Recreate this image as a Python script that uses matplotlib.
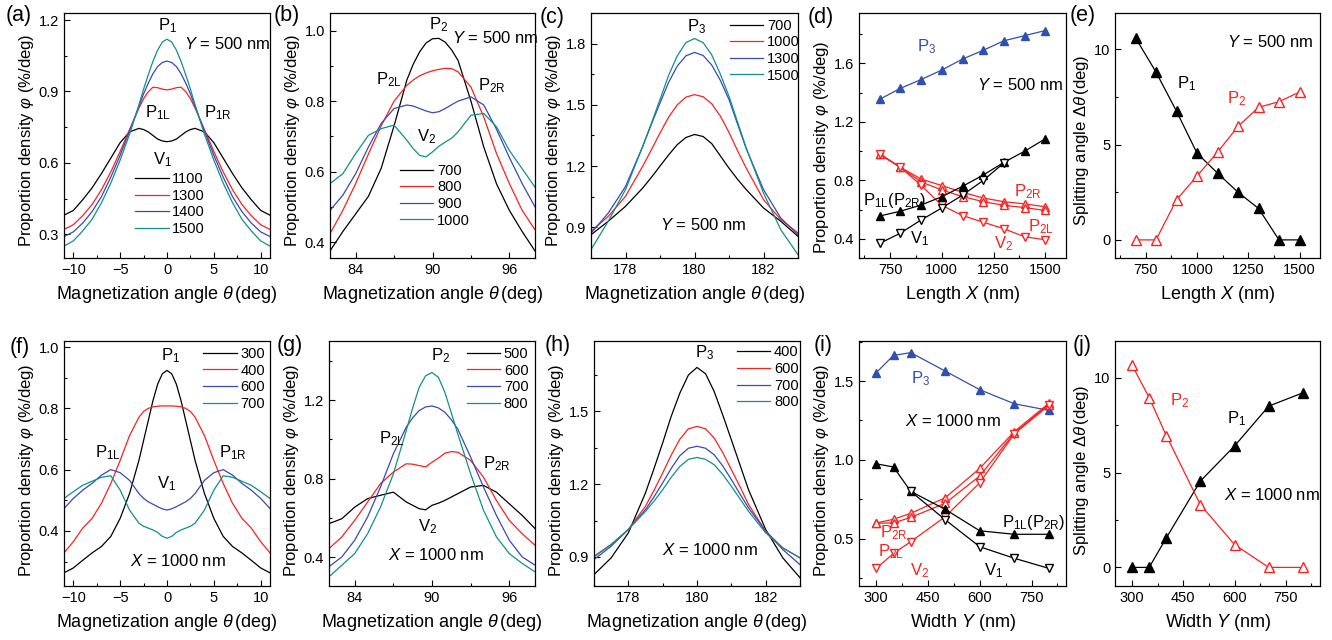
import numpy as np
import matplotlib.pyplot as plt
from matplotlib.ticker import MultipleLocator, FixedLocator

plt.rcParams['font.family'] = ['Liberation Sans', 'DejaVu Sans']
plt.rcParams['mathtext.fontset'] = 'custom'
plt.rcParams['mathtext.rm'] = 'Liberation Sans'
plt.rcParams['mathtext.it'] = 'Liberation Sans:italic'
plt.rcParams['axes.linewidth'] = 0.9

BLK = '#000000'
RED = '#ff1f1f'
BLU = '#3a48b8'
TEAL = '#10908c'
P3C = '#3050b0'

# ---- (a) peak P1 vs length X, Y = 500 nm
theta_a = [-11, -10, -9, -8, -7, -6, -5, -4, -3, -2.5, -2, -1.5, -1, -0.5, 0,
           0.5, 1, 1.5, 2, 2.5, 3, 4, 5, 6, 7, 8, 9, 10, 11]
a_1100 = [0.38, 0.40, 0.445, 0.495, 0.555, 0.62, 0.685, 0.73, 0.745, 0.74, 0.73, 0.715, 0.70, 0.692, 0.689,
          0.692, 0.70, 0.715, 0.73, 0.74, 0.745, 0.73, 0.685, 0.62, 0.555, 0.495, 0.445, 0.40, 0.38]
a_1300 = [0.32, 0.34, 0.378, 0.425, 0.487, 0.562, 0.648, 0.74, 0.83, 0.87, 0.899, 0.918, 0.916, 0.91, 0.907,
          0.91, 0.916, 0.918, 0.899, 0.87, 0.83, 0.74, 0.648, 0.562, 0.487, 0.425, 0.378, 0.34, 0.32]
a_1400 = [0.29, 0.31, 0.347, 0.395, 0.458, 0.54, 0.632, 0.733, 0.837, 0.89, 0.935, 0.975, 1.005, 1.022, 1.028,
          1.022, 1.005, 0.975, 0.935, 0.89, 0.837, 0.733, 0.632, 0.54, 0.458, 0.395, 0.347, 0.31, 0.29]
a_1500 = [0.25, 0.272, 0.314, 0.363, 0.432, 0.515, 0.612, 0.72, 0.844, 0.91, 0.97, 1.027, 1.074, 1.108, 1.12,
          1.108, 1.074, 1.027, 0.97, 0.91, 0.844, 0.72, 0.612, 0.515, 0.432, 0.363, 0.314, 0.272, 0.25]

# ---- (b) peak P2 vs length X
theta_b = [82, 83, 84, 85, 86, 87, 88, 88.5, 89, 89.5, 90, 90.5, 91, 91.5, 92, 93, 94, 95, 96, 97, 98]
b_700 = [0.375, 0.43, 0.48, 0.53, 0.61, 0.73, 0.86, 0.905, 0.94, 0.965, 0.977, 0.978, 0.967, 0.945,
         0.915, 0.80, 0.67, 0.565, 0.49, 0.43, 0.375]
b_800 = [0.424, 0.49, 0.566, 0.65, 0.73, 0.80, 0.845, 0.86, 0.872, 0.88, 0.886, 0.89, 0.893, 0.892,
         0.883, 0.84, 0.755, 0.651, 0.566, 0.49, 0.435]
b_900 = [0.49, 0.533, 0.594, 0.67, 0.737, 0.779, 0.789, 0.786, 0.779, 0.772, 0.767, 0.77, 0.779, 0.79,
         0.80, 0.812, 0.789, 0.72, 0.64, 0.566, 0.50]
b_1000 = [0.566, 0.594, 0.651, 0.703, 0.722, 0.732, 0.689, 0.665, 0.646, 0.642, 0.656, 0.672, 0.684, 0.695,
          0.713, 0.76, 0.765, 0.727, 0.66, 0.608, 0.556]

# ---- (c) peak P3 vs length X
theta_c = [177, 177.5, 178, 178.5, 178.75, 179, 179.25, 179.5, 179.75, 180,
           180.25, 180.5, 180.75, 181, 181.25, 181.5, 182, 182.5, 183]
c_700 = [0.864, 0.93, 1.003, 1.093, 1.145, 1.20, 1.255, 1.305, 1.34, 1.355,
         1.345, 1.31, 1.25, 1.19, 1.135, 1.085, 0.995, 0.93, 0.856]
c_1000 = [0.88, 0.954, 1.052, 1.20, 1.28, 1.362, 1.44, 1.50, 1.538, 1.55,
          1.54, 1.505, 1.445, 1.365, 1.275, 1.19, 1.036, 0.938, 0.873]
c_1300 = [0.872, 0.97, 1.10, 1.297, 1.405, 1.509, 1.61, 1.69, 1.74, 1.757,
          1.742, 1.695, 1.62, 1.526, 1.405, 1.285, 1.085, 0.946, 0.864]
c_1500 = [0.791, 0.93, 1.085, 1.297, 1.41, 1.526, 1.645, 1.74, 1.805, 1.825,
          1.805, 1.745, 1.65, 1.542, 1.415, 1.289, 1.068, 0.889, 0.766]

# ---- (d), (e) summary vs length X
len_x = [700, 800, 900, 1000, 1100, 1200, 1300, 1400, 1500]
d_p3 = [1.355, 1.43, 1.49, 1.555, 1.63, 1.69, 1.755, 1.79, 1.825]
d_p1 = [0.557, 0.59, 0.632, 0.689, 0.76, 0.837, 0.924, 1.0, 1.085]
d_v1 = [0.37, 0.44, 0.53, 0.612, 0.70, 0.80, 0.92]
d_p2r = [0.98, 0.89, 0.81, 0.765, 0.72, 0.68, 0.655, 0.64, 0.62]
d_p2l = [0.98, 0.89, 0.79, 0.735, 0.69, 0.655, 0.63, 0.615, 0.595]
d_v2 = [0.98, 0.89, 0.767, 0.63, 0.56, 0.515, 0.47, 0.415, 0.395]
e_p1 = [10.6, 8.8, 6.75, 4.55, 3.5, 2.5, 1.65, 0, 0]
e_p2 = [0, 0, 2.1, 3.35, 4.6, 5.95, 6.95, 7.25, 7.75]

# ---- (f) peak P1 vs width Y, X = 1000 nm
theta_f = theta_a
f_300 = [0.263, 0.279, 0.304, 0.328, 0.349, 0.382, 0.441, 0.522, 0.63, 0.695, 0.76, 0.825, 0.879, 0.913, 0.924,
         0.913, 0.879, 0.825, 0.76, 0.695, 0.63, 0.522, 0.441, 0.382, 0.349, 0.328, 0.304, 0.279, 0.263]
f_400 = [0.328, 0.365, 0.409, 0.441, 0.49, 0.555, 0.63, 0.711, 0.771, 0.79, 0.80, 0.805, 0.807, 0.808, 0.808,
         0.808, 0.807, 0.805, 0.80, 0.79, 0.771, 0.711, 0.63, 0.555, 0.49, 0.441, 0.409, 0.365, 0.328]
f_600 = [0.473, 0.506, 0.533, 0.555, 0.582, 0.60, 0.59, 0.565, 0.522, 0.506, 0.495, 0.487, 0.479, 0.472, 0.468,
         0.472, 0.479, 0.487, 0.495, 0.506, 0.522, 0.565, 0.59, 0.60, 0.582, 0.555, 0.533, 0.506, 0.473]
f_700 = [0.506, 0.528, 0.549, 0.562, 0.575, 0.58, 0.533, 0.468, 0.425, 0.415, 0.409, 0.403, 0.395, 0.382, 0.376,
         0.382, 0.395, 0.403, 0.409, 0.415, 0.425, 0.468, 0.533, 0.58, 0.575, 0.562, 0.549, 0.528, 0.506]

# ---- (g) peak P2 vs width Y
theta_g = theta_b
g_500 = [0.572, 0.597, 0.656, 0.699, 0.716, 0.732, 0.682, 0.665, 0.648, 0.642, 0.665, 0.676, 0.69, 0.707,
         0.724, 0.758, 0.766, 0.732, 0.673, 0.614, 0.547]
g_600 = [0.445, 0.505, 0.589, 0.682, 0.775, 0.834, 0.876, 0.874, 0.867, 0.86, 0.884, 0.905, 0.93, 0.938,
         0.935, 0.893, 0.808, 0.69, 0.589, 0.521, 0.462]
g_700 = [0.353, 0.403, 0.488, 0.606, 0.758, 0.927, 1.062, 1.11, 1.146, 1.165, 1.17, 1.16, 1.138, 1.10,
         1.053, 0.91, 0.758, 0.614, 0.488, 0.403, 0.361]
g_800 = [0.302, 0.361, 0.42, 0.521, 0.656, 0.825, 1.045, 1.16, 1.264, 1.323, 1.34, 1.315, 1.239, 1.135,
         1.028, 0.825, 0.64, 0.505, 0.42, 0.37, 0.327]

# ---- (h) peak P3 vs width Y
theta_h = theta_c
h_400 = [0.827, 0.896, 0.999, 1.164, 1.265, 1.37, 1.48, 1.575, 1.65, 1.681,
         1.655, 1.582, 1.485, 1.383, 1.28, 1.177, 1.013, 0.896, 0.814]
h_600 = [0.903, 0.951, 1.013, 1.109, 1.175, 1.246, 1.32, 1.385, 1.428, 1.438,
         1.428, 1.39, 1.33, 1.26, 1.19, 1.116, 1.006, 0.937, 0.896]
h_700 = [0.889, 0.944, 1.013, 1.095, 1.148, 1.205, 1.265, 1.317, 1.348, 1.356,
         1.348, 1.321, 1.275, 1.219, 1.16, 1.102, 1.006, 0.93, 0.868]
h_800 = [0.90, 0.951, 1.013, 1.088, 1.13, 1.177, 1.228, 1.273, 1.302, 1.31,
         1.302, 1.28, 1.24, 1.191, 1.14, 1.088, 0.999, 0.937, 0.896]

# ---- (i), (j) summary vs width Y
wid_y = [300, 350, 400, 500, 600, 700, 800]
i_p3 = [1.553, 1.663, 1.68, 1.563, 1.445, 1.356, 1.314]
i_p1 = [0.975, 0.955, 0.80, 0.686, 0.55, 0.528, 0.528]
i_v1 = [0.80, 0.62, 0.449, 0.376, 0.312]
i_p2r = [0.60, 0.623, 0.661, 0.76, 0.946, 1.179, 1.359]
i_p2l = [0.598, 0.60, 0.635, 0.725, 0.898, 1.17, 1.35]
i_v2 = [0.312, 0.407, 0.481, 0.64, 0.855, 1.165, 1.345]
j_p1 = [0, 0, 1.55, 4.55, 6.4, 8.5, 9.2]
j_p2 = [10.65, 8.95, 6.95, 3.3, 1.2, 0, 0]

W, H = 1332, 640
fig = plt.figure(figsize=(W / 100, H / 100), dpi=100)


def panel(l, r, t, b, tickdir='in'):
    ax = fig.add_axes([l / W, 1 - b / H, (r - l) / W, (b - t) / H])
    ax.tick_params(which='both', direction=tickdir, top=False, right=False, labelsize=10.5)
    ax.tick_params(which='major', length=4, width=0.8)
    ax.tick_params(which='minor', length=2.5, width=0.8)
    return ax


def tag(s, px, py):
    fig.text(px / W, 1 - py / H, s, fontsize=15.5, ha='left', va='center')


def curve_legend(ax, fx, fy):
    ax.legend(frameon=False, loc='upper left', bbox_to_anchor=(fx, fy), borderaxespad=0, borderpad=0,
              handlelength=2.3, handletextpad=0.25, labelspacing=0.18, fontsize=10.5)


def labels(ax, xl, yl, ypos=0.48):
    ax.set_xlabel(xl, fontsize=13, labelpad=5)
    ax.set_ylabel(yl, fontsize=12, labelpad=2)
    ax.yaxis.label.set_y(ypos)


TH = r'Magnetization angle $\theta\,$(deg)'
PHI = r'Proportion density $\varphi$ (%/deg)'
SPL = r'Splitting angle $\Delta\theta\,$(deg)'
ANN = 12

# (a)
ax = panel(64, 270, 13, 258)
for ys, c, lab in [(a_1100, BLK, '1100'), (a_1300, RED, '1300'), (a_1400, BLU, '1400'), (a_1500, TEAL, '1500')]:
    ax.plot(theta_a, ys, color=c, lw=0.9, label=lab)
ax.set_xlim(-11, 11)
ax.set_ylim(0.2, 1.23)
ax.xaxis.set_major_locator(FixedLocator([-10, -5, 0, 5, 10]))
ax.xaxis.set_minor_locator(MultipleLocator(2.5))
ax.yaxis.set_major_locator(FixedLocator([0.3, 0.6, 0.9, 1.2]))
ax.yaxis.set_minor_locator(MultipleLocator(0.15))
labels(ax, TH, PHI)
ax.text(0.05, 1.176, r'P$_{1}$', fontsize=ANN, ha='center', va='center')
ax.text(1.84, 1.10, r'$Y$ = 500 nm', fontsize=ANN, ha='left', va='center')
ax.text(-2.4, 0.81, r'P$_{\rm 1L}$', fontsize=ANN, ha='left', va='center')
ax.text(3.9, 0.81, r'P$_{\rm 1R}$', fontsize=ANN, ha='left', va='center')
ax.text(-1.45, 0.613, r'V$_{1}$', fontsize=ANN, ha='left', va='center')
curve_legend(ax, 0.345, 0.351)
tag('(a)', 6, 16)

# (b)
ax = panel(330, 535, 13, 258)
for ys, c, lab in [(b_700, BLK, '700'), (b_800, RED, '800'), (b_900, BLU, '900'), (b_1000, TEAL, '1000')]:
    ax.plot(theta_b, ys, color=c, lw=0.9, label=lab)
ax.set_xlim(82, 98)
ax.set_ylim(0.355, 1.05)
ax.xaxis.set_major_locator(FixedLocator([84, 90, 96]))
ax.xaxis.set_minor_locator(MultipleLocator(3))
ax.yaxis.set_major_locator(FixedLocator([0.4, 0.6, 0.8, 1.0]))
ax.yaxis.set_minor_locator(MultipleLocator(0.1))
labels(ax, TH, PHI)
ax.text(90.45, 1.016, r'P$_{2}$', fontsize=ANN, ha='center', va='center')
ax.text(91.5, 0.978, r'$Y$ = 500 nm', fontsize=ANN, ha='left', va='center')
ax.text(85.6, 0.86, r'P$_{\rm 2L}$', fontsize=ANN, ha='left', va='center')
ax.text(93.57, 0.845, r'P$_{\rm 2R}$', fontsize=ANN, ha='left', va='center')
ax.text(88.77, 0.70, r'V$_{2}$', fontsize=ANN, ha='left', va='center')
curve_legend(ax, 0.341, 0.385)
tag('(b)', 274, 16)

# (c)
ax = panel(591, 798, 13, 258)
for ys, c, lab in [(c_700, BLK, '700'), (c_1000, RED, '1000'), (c_1300, BLU, '1300'), (c_1500, TEAL, '1500')]:
    ax.plot(theta_c, ys, color=c, lw=0.9, label=lab)
ax.set_xlim(177, 183)
ax.set_ylim(0.75, 1.95)
ax.xaxis.set_major_locator(FixedLocator([178, 180, 182]))
ax.xaxis.set_minor_locator(MultipleLocator(1))
ax.yaxis.set_major_locator(FixedLocator([0.9, 1.2, 1.5, 1.8]))
ax.yaxis.set_minor_locator(MultipleLocator(0.15))
labels(ax, TH, PHI)
ax.text(180.05, 1.885, r'P$_{3}$', fontsize=ANN, ha='center', va='center')
ax.text(179.0, 0.913, r'$Y$ = 500 nm', fontsize=ANN, ha='left', va='center')
curve_legend(ax, 0.671, 0.977)
tag('(c)', 540, 17)

# (d)
ax = panel(859, 1066, 13, 258)
ax.plot(len_x, d_p3, color=P3C, lw=0.9, marker='^', ms=6, mfc=P3C, mec=P3C)
ax.plot(len_x, d_p2r, color=RED, lw=0.9, marker='^', ms=6, mfc='white', mec=RED)
ax.plot(len_x, d_p2l, color=RED, lw=0.9, marker='^', ms=6, mfc='white', mec=RED)
ax.plot(len_x, d_v2, color=RED, lw=0.9, marker='v', ms=6, mfc='white', mec=RED)
ax.plot(len_x, d_p1, color=BLK, lw=0.9, marker='^', ms=6, mfc=BLK, mec=BLK)
ax.plot(len_x[:len(d_v1)], d_v1, color=BLK, lw=0.9, marker='v', ms=6, mfc='white', mec=BLK)
ax.set_xlim(600, 1600)
ax.set_ylim(0.27, 1.945)
ax.xaxis.set_major_locator(FixedLocator([750, 1000, 1250, 1500]))
ax.xaxis.set_minor_locator(MultipleLocator(125))
ax.yaxis.set_major_locator(FixedLocator([0.4, 0.8, 1.2, 1.6]))
ax.yaxis.set_minor_locator(MultipleLocator(0.2))
labels(ax, r'Length $X$ (nm)', PHI, ypos=0.45)
ax.text(879, 1.715, r'P$_{3}$', color=P3C, fontsize=ANN, ha='left', va='center')
ax.text(1171, 1.45, r'$Y$ = 500 nm', fontsize=ANN, ha='left', va='center')
ax.text(617, 0.665, r'P$_{\rm 1L}$(P$_{\rm 2R}$)', fontsize=ANN, ha='left', va='center')
ax.text(1348, 0.722, r'P$_{\rm 2R}$', color=RED, fontsize=ANN, ha='left', va='center')
ax.text(1415, 0.482, r'P$_{\rm 2L}$', color=RED, fontsize=ANN, ha='left', va='center')
ax.text(846, 0.403, r'V$_{1}$', fontsize=ANN, ha='left', va='center')
ax.text(1250, 0.369, r'V$_{2}$', color=RED, fontsize=ANN, ha='left', va='center')
tag('(d)', 808, 18)

# (e)
ax = panel(1115, 1320, 13, 258)
ax.plot(len_x, e_p1, color=BLK, lw=0.9, marker='^', ms=7, mfc=BLK, mec=BLK)
ax.plot(len_x, e_p2, color=RED, lw=0.9, marker='^', ms=7, mfc='white', mec=RED)
ax.set_xlim(600, 1600)
ax.set_ylim(-0.95, 11.9)
ax.xaxis.set_major_locator(FixedLocator([750, 1000, 1250, 1500]))
ax.xaxis.set_minor_locator(MultipleLocator(125))
ax.yaxis.set_major_locator(FixedLocator([0, 5, 10]))
ax.yaxis.set_minor_locator(MultipleLocator(2.5))
labels(ax, r'Length $X$ (nm)', SPL)
ax.text(1144, 10.4, r'$Y$ = 500 nm', fontsize=ANN, ha='left', va='center')
ax.text(902, 8.22, r'P$_{1}$', fontsize=ANN, ha='left', va='center')
ax.text(1144, 7.43, r'P$_{2}$', color=RED, fontsize=ANN, ha='left', va='center')
tag('(e)', 1070, 16)

# (f)
ax = panel(64, 270, 341, 586)
for ys, c, lab in [(f_300, BLK, '300'), (f_400, RED, '400'), (f_600, BLU, '600'), (f_700, TEAL, '700')]:
    ax.plot(theta_f, ys, color=c, lw=0.9, label=lab)
ax.set_xlim(-11, 11)
ax.set_ylim(0.22, 1.02)
ax.xaxis.set_major_locator(FixedLocator([-10, -5, 0, 5, 10]))
ax.xaxis.set_minor_locator(MultipleLocator(2.5))
ax.yaxis.set_major_locator(FixedLocator([0.4, 0.6, 0.8, 1.0]))
ax.yaxis.set_minor_locator(MultipleLocator(0.1))
labels(ax, TH, PHI, ypos=0.47)
ax.text(-0.65, 0.971, r'P$_{1}$', fontsize=ANN, ha='left', va='center')
ax.text(-7.64, 0.657, r'P$_{\rm 1L}$', fontsize=ANN, ha='left', va='center')
ax.text(5.58, 0.657, r'P$_{\rm 1R}$', fontsize=ANN, ha='left', va='center')
ax.text(-1.1, 0.555, r'V$_{1}$', fontsize=ANN, ha='left', va='center')
ax.text(-4.0, 0.30, r'$X$ = 1000 nm', fontsize=ANN, ha='left', va='center')
curve_legend(ax, 0.675, 0.976)
tag('(f)', 10, 347)

# (g)
ax = panel(329, 535, 341, 586)
for ys, c, lab in [(g_500, BLK, '500'), (g_600, RED, '600'), (g_700, BLU, '700'), (g_800, TEAL, '800')]:
    ax.plot(theta_g, ys, color=c, lw=0.9, label=lab)
ax.set_xlim(82, 98)
ax.set_ylim(0.255, 1.5)
ax.xaxis.set_major_locator(FixedLocator([84, 90, 96]))
ax.xaxis.set_minor_locator(MultipleLocator(3))
ax.yaxis.set_major_locator(FixedLocator([0.4, 0.8, 1.2]))
ax.yaxis.set_minor_locator(MultipleLocator(0.2))
labels(ax, TH, PHI, ypos=0.47)
ax.text(89.95, 1.424, r'P$_{2}$', fontsize=ANN, ha='left', va='center')
ax.text(85.9, 1.003, r'P$_{\rm 2L}$', fontsize=ANN, ha='left', va='center')
ax.text(93.97, 0.876, r'P$_{\rm 2R}$', fontsize=ANN, ha='left', va='center')
ax.text(88.9, 0.555, r'V$_{2}$', fontsize=ANN, ha='left', va='center')
ax.text(86.55, 0.412, r'$X$ = 1000 nm', fontsize=ANN, ha='left', va='center')
curve_legend(ax, 0.668, 0.976)
tag('(g)', 277, 345)

# (h)
ax = panel(594, 800, 341, 586)
for ys, c, lab in [(h_400, BLK, '400'), (h_600, RED, '600'), (h_700, BLU, '700'), (h_800, TEAL, '800')]:
    ax.plot(theta_h, ys, color=c, lw=0.9, label=lab)
ax.set_xlim(177, 183)
ax.set_ylim(0.78, 1.79)
ax.xaxis.set_major_locator(FixedLocator([178, 180, 182]))
ax.xaxis.set_minor_locator(MultipleLocator(1))
ax.yaxis.set_major_locator(FixedLocator([0.9, 1.2, 1.5]))
ax.yaxis.set_minor_locator(MultipleLocator(0.15))
labels(ax, TH, PHI, ypos=0.47)
ax.text(179.93, 1.741, r'P$_{3}$', fontsize=ANN, ha='left', va='center')
ax.text(178.97, 0.93, r'$X$ = 1000 nm', fontsize=ANN, ha='left', va='center')
curve_legend(ax, 0.693, 0.982)
tag('(h)', 545, 345)

# (i)
ax = panel(859, 1066, 341, 586)
ax.plot(wid_y, i_p3, color=P3C, lw=0.9, marker='^', ms=6, mfc=P3C, mec=P3C)
ax.plot(wid_y, i_p2r, color=RED, lw=0.9, marker='^', ms=6, mfc='white', mec=RED)
ax.plot(wid_y, i_p2l, color=RED, lw=0.9, marker='^', ms=6, mfc='white', mec=RED)
ax.plot(wid_y, i_v2, color=RED, lw=0.9, marker='v', ms=6, mfc='white', mec=RED)
ax.plot(wid_y, i_p1, color=BLK, lw=0.9, marker='^', ms=6, mfc=BLK, mec=BLK)
ax.plot(wid_y[2:], i_v1, color=BLK, lw=0.9, marker='v', ms=6, mfc='white', mec=BLK)
ax.set_xlim(250, 850)
ax.set_ylim(0.2, 1.754)
ax.xaxis.set_major_locator(FixedLocator([300, 450, 600, 750]))
ax.xaxis.set_minor_locator(MultipleLocator(75))
ax.yaxis.set_major_locator(FixedLocator([0.5, 1.0, 1.5]))
ax.yaxis.set_minor_locator(MultipleLocator(0.25))
labels(ax, r'Width $Y$ (nm)', PHI, ypos=0.47)
ax.text(402, 1.515, r'P$_{3}$', color=P3C, fontsize=ANN, ha='left', va='center')
ax.text(383, 1.245, r'$X$ = 1000 nm', fontsize=ANN, ha='left', va='center')
ax.text(665, 0.605, r'P$_{\rm 1L}$(P$_{\rm 2R}$)', fontsize=ANN, ha='left', va='center')
ax.text(310, 0.54, r'P$_{\rm 2R}$', color=RED, fontsize=ANN, ha='left', va='center')
ax.text(305, 0.415, r'P$_{\rm 2L}$', color=RED, fontsize=ANN, ha='left', va='center')
ax.text(398, 0.30, r'V$_{2}$', color=RED, fontsize=ANN, ha='left', va='center')
ax.text(612, 0.30, r'V$_{1}$', fontsize=ANN, ha='left', va='center')
tag('(i)', 814, 345)

# (j)
ax = panel(1115, 1320, 341, 586)
ax.plot(wid_y, j_p1, color=BLK, lw=0.9, marker='^', ms=7, mfc=BLK, mec=BLK)
ax.plot(wid_y, j_p2, color=RED, lw=0.9, marker='^', ms=7, mfc='white', mec=RED)
ax.set_xlim(250, 850)
ax.set_ylim(-0.98, 11.93)
ax.xaxis.set_major_locator(FixedLocator([300, 450, 600, 750]))
ax.xaxis.set_minor_locator(MultipleLocator(75))
ax.yaxis.set_major_locator(FixedLocator([0, 5, 10]))
ax.yaxis.set_minor_locator(MultipleLocator(2.5))
labels(ax, r'Width $Y$ (nm)', SPL, ypos=0.47)
ax.text(412, 8.8, r'P$_{2}$', color=RED, fontsize=ANN, ha='left', va='center')
ax.text(578, 7.84, r'P$_{1}$', fontsize=ANN, ha='left', va='center')
ax.text(568, 3.8, r'$X$ = 1000 nm', fontsize=ANN, ha='left', va='center')
tag('(j)', 1073, 345)

fig.savefig('out.png', dpi=100)
